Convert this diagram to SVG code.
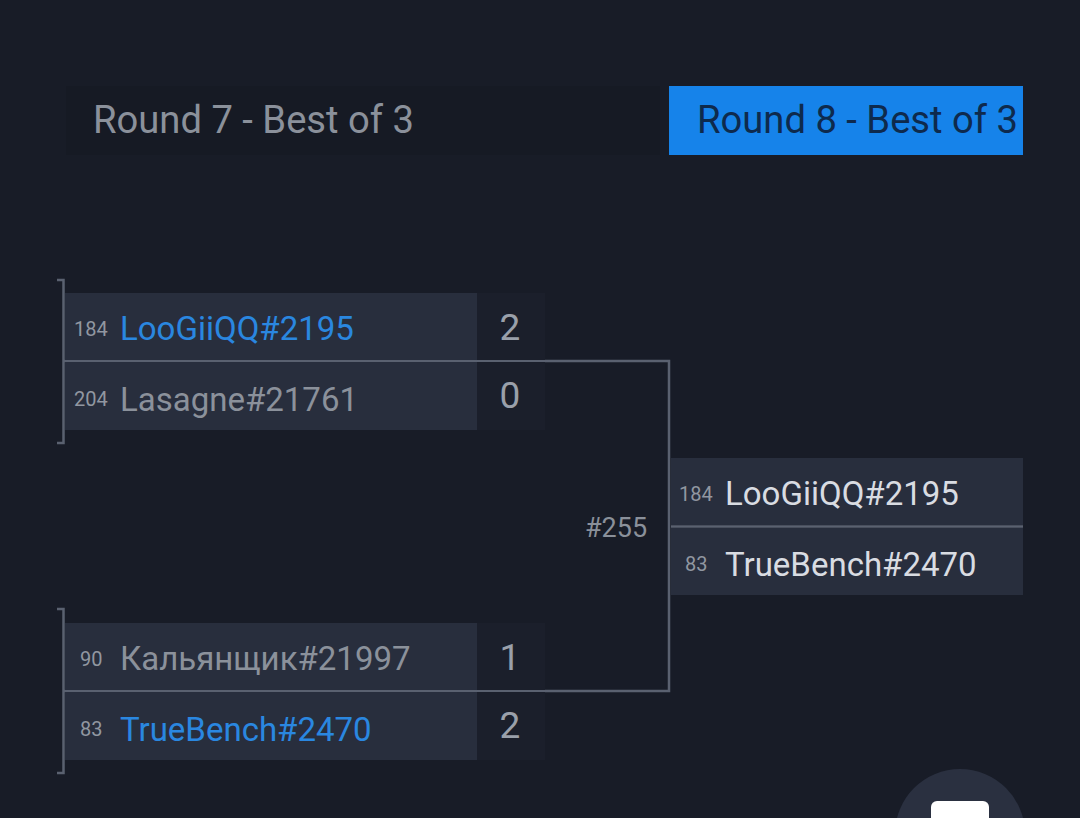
<svg xmlns="http://www.w3.org/2000/svg" width="1080" height="818" viewBox="0 0 1080 818">
<style>
.bg{fill:#181c27}
.row{fill:#282e3d}
.score{fill:#1b1f2b}
.seed{font-family:Roboto,"Liberation Sans",sans-serif;font-size:20px;fill:#9197a1}
.name{font-family:Roboto,"Liberation Sans",sans-serif;font-size:33px;fill:#8b919b}
.win{fill:#2a87e0}
.light{fill:#d9dce2}
.num{font-family:Roboto,"Liberation Sans",sans-serif;font-size:37px;fill:#9aa0aa;text-anchor:middle}
.line{fill:none;stroke:#5a6170;stroke-width:2.5}
.hdr{font-family:Roboto,"Liberation Sans",sans-serif;font-size:38px}
</style>
<rect class="bg" x="0" y="0" width="1080" height="818"/>
<g id="header-r7">
<rect x="66" y="86" width="594" height="69" fill="#161a24"/>
<text class="hdr" x="93" y="133" fill="#8b919b" textLength="321" lengthAdjust="spacingAndGlyphs">Round 7 - Best of 3</text>
</g>
<g id="header-r8">
<rect x="669" y="86" width="354" height="69" fill="#1683ea"/>
<text class="hdr" x="697" y="133" fill="#0e2a4d" textLength="321" lengthAdjust="spacingAndGlyphs">Round 8 - Best of 3</text>
</g>
<g id="connectors">
<path class="line" d="M57,280 H63.5 V443 H57"/>
<path class="line" d="M57,609 H63.5 V773 H57"/>
<path class="line" d="M64,361 H669 V691 H64"/>
</g>
<g id="match-top">
<rect class="row" x="65" y="293" width="412" height="67"/>
<rect class="row" x="65" y="362" width="412" height="68"/>
<rect class="score" x="477" y="293" width="68" height="67"/>
<rect class="score" x="477" y="362" width="68" height="68"/>
<text class="seed" x="74" y="336">184</text>
<text class="name win" x="120" y="340">LooGiiQQ#2195</text>
<text class="seed" x="74" y="406">204</text>
<text class="name" x="120" y="411">Lasagne#21761</text>
<text class="num" x="510" y="340">2</text>
<text class="num" x="510" y="408">0</text>
</g>
<g id="match-bottom">
<rect class="row" x="65" y="623" width="412" height="67"/>
<rect class="row" x="65" y="692" width="412" height="68"/>
<rect class="score" x="477" y="623" width="68" height="67"/>
<rect class="score" x="477" y="692" width="68" height="68"/>
<text class="seed" x="80" y="666">90</text>
<text class="name" x="120" y="670">Кальянщик#21997</text>
<text class="seed" x="80" y="736">83</text>
<text class="name win" x="120" y="741">TrueBench#2470</text>
<text class="num" x="510" y="670">1</text>
<text class="num" x="510" y="738">2</text>
</g>
<g id="match-label">
<text x="616" y="537" font-family="Roboto,'Liberation Sans',sans-serif" font-size="27" fill="#8a909a" text-anchor="middle">#255</text>
</g>
<g id="match-final">
<rect class="row" x="671" y="458" width="352" height="67"/>
<rect class="row" x="671" y="528" width="352" height="67"/>
<line x1="671" y1="526.5" x2="1023" y2="526.5" stroke="#5a6170" stroke-width="2.5"/>
<text class="seed" x="679" y="501">184</text>
<text class="name light" x="725" y="505">LooGiiQQ#2195</text>
<text class="seed" x="685" y="571">83</text>
<text class="name light" x="725" y="576">TrueBench#2470</text>
</g>
<g id="fab">
<circle cx="960" cy="834" r="65" fill="#2a3040"/>
<rect x="931" y="801" width="58" height="40" rx="6" fill="#ffffff"/>
</g>
</svg>
